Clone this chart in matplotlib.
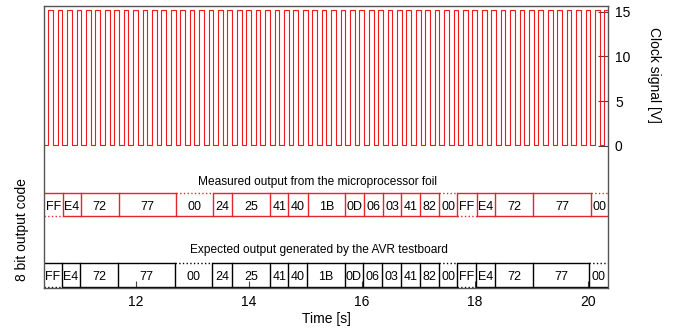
import numpy as np
import matplotlib
matplotlib.use("Agg")
import matplotlib.pyplot as plt

plt.rcParams['font.family'] = ['Liberation Sans', 'DejaVu Sans']

# clock signal
clock_t0 = 10.454      # first rising edge [s]
clock_period = 0.1667  # [s]
clock_high = 15.2      # [V]
clock_low = 0.05       # [V]
n_pulses = 61

# byte sequence shown on both rows
byte_labels = ["FF", "E4", "72", "77", "00", "24", "25", "41", "40", "1B", "0D",
               "06", "03", "41", "82", "00", "FF", "E4", "72", "77", "00"]
measured_edges = [10.72, 11.03, 11.70, 12.71, 13.36, 13.70, 14.375, 14.70, 15.04, 15.70,
                  16.03, 16.37, 16.70, 17.03, 17.36, 17.69, 18.03, 18.35, 19.03, 20.05]
expected_edges = [10.70, 11.015, 11.69, 12.695, 13.355, 13.70, 14.375, 14.70, 15.035, 15.70,
                  16.015, 16.36, 16.69, 17.03, 17.365, 17.69, 18.02, 18.355, 19.02, 20.02]

xmin, xmax = 10.378, 20.353

# build the step trace of the clock
rises = clock_t0 + clock_period * np.arange(n_pulses)
falls = rises + clock_period / 2
t = [xmin]
v = [clock_low]
for r, f in zip(rises, falls):
    t += [r, r, f, f]
    v += [clock_low, clock_high, clock_high, clock_low]
t.append(xmax + 0.5)
v.append(clock_low)

fig = plt.figure(figsize=(6.75, 3.32), dpi=100)
ax = fig.add_axes([0.0652, 0.1316, 0.8356, 0.8512])
ax.plot(t, v, color='#f01a1a', lw=0.8)
ax.set_xlim(xmin, xmax)
ax.set_ylim(-15.97, 15.68)

trans = ax.get_xaxis_transform()


def draw_row(edges, y0, y1, ylab, color):
    bounds = [xmin] + list(edges) + [xmax]
    for i, lab in enumerate(byte_labels):
        a, b = bounds[i], bounds[i + 1]
        top_ls = ':' if lab == "00" else '-'
        bot_ls = ':' if lab == "FF" else '-'
        ax.plot([a, b], [y1, y1], color=color, lw=1, ls=top_ls, transform=trans,
                clip_on=False, solid_capstyle='butt')
        ax.plot([a, b], [y0, y0], color=color, lw=1, ls=bot_ls, transform=trans,
                clip_on=False, solid_capstyle='butt')
        ax.text((a + b) / 2, ylab, lab, transform=trans, ha='center', va='center',
                fontsize=9)
    for e in edges:
        ax.plot([e, e], [y0, y1], color=color, lw=1, transform=trans)


draw_row(measured_edges, 0.257, 0.336, 0.289, '#e3262e')
draw_row(expected_edges, 0.0035, 0.0885, 0.040, 'black')

ax.text(15.21, 0.377, "Measured output from the microprocessor foil", transform=trans,
        ha='center', va='center', fontsize=8.6)
ax.text(15.24, 0.1355, "Expected output generated by the AVR testboard", transform=trans,
        ha='center', va='center', fontsize=8.6)

ax.set_xticks([12, 14, 16, 18, 20])
ax.set_yticks([0, 5, 10, 15])
ax.yaxis.tick_right()
ax.tick_params(axis='both', direction='in', labelsize=10, color='#444444')
ax.tick_params(axis='x', length=5, pad=5)
ax.tick_params(axis='y', length=7, pad=5)
for s in ax.spines.values():
    s.set_color('#555555')
    s.set_linewidth(1)

ax.set_xlabel('Time [s]', fontsize=10, labelpad=2)
fig.text(654 / 675, 1 - 75 / 332, 'Clock signal [V]', rotation=-90, ha='center',
         va='center', fontsize=10)
fig.text(22 / 675, 1 - 230 / 332, '8 bit output code', rotation=90, ha='center',
         va='center', fontsize=10)

fig.savefig('out.png', dpi=100)
